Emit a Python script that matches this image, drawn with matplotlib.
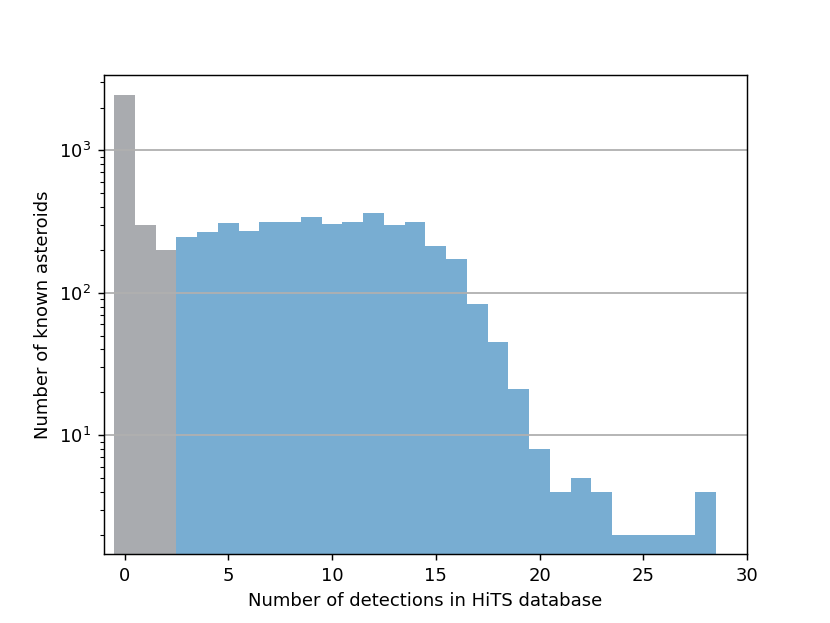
import matplotlib
matplotlib.use("Agg")
import matplotlib.pyplot as plt

# number of detections per asteroid (bins 0..28)
detections = list(range(0, 29))
counts = [2450, 300, 200, 247, 268, 310, 272, 315, 315, 342, 305, 315, 365, 300, 315,
          213, 173, 83, 45, 21, 8, 4, 5, 4, 2, 2, 2, 2, 4]
n_gray = 3  # detections below threshold

fig, ax = plt.subplots(figsize=(830 / 130, 623 / 130), dpi=130)

ax.bar(detections[:n_gray], counts[:n_gray], width=1.0, color="#71737a", alpha=0.6)
ax.bar(detections[n_gray:], counts[n_gray:], width=1.0, color="tab:blue", alpha=0.6)

ax.set_yscale("log")
ax.set_ylim(1.45, 3400)
ax.set_xlim(-1, 30)
ax.yaxis.grid(True, which="major", color="#b0b0b0", linewidth=1.0)
ax.set_xlabel("Number of detections in HiTS database")
ax.set_ylabel("Number of known asteroids")

plt.savefig("out.png", dpi=130)
plt.close()
